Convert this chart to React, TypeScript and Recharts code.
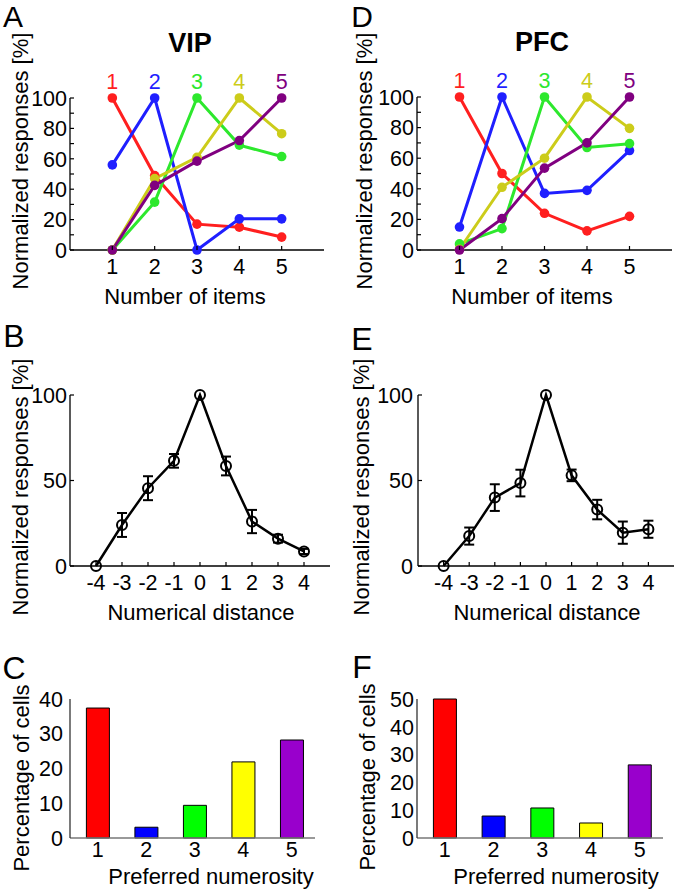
import { LineChart, Line, BarChart, Bar, Cell, XAxis, YAxis, ErrorBar, ReferenceDot } from 'recharts';

const FONT = '"Liberation Sans", Arial, Helvetica, sans-serif';

// A / D: normalized tuning curves, one series per preferred numerosity
const items = [1, 2, 3, 4, 5];
const prefNames = ['1', '2', '3', '4', '5'];
const vip1 = [100, 49, 17, 15, 8.5];
const vip2 = [56, 100, 0, 20.5, 20.5];
const vip3 = [0, 31.5, 100, 69, 61.5];
const vip4 = [0, 47, 61, 100, 76.5];
const vip5 = [0, 42.5, 58.5, 72, 100];
const pfc1 = [100, 50, 24, 12.5, 22];
const pfc2 = [15, 100, 37, 39, 65];
const pfc3 = [4, 14, 100, 67, 69.5];
const pfc4 = [0.5, 41, 60, 100, 79.5];
const pfc5 = [0, 20.5, 53.5, 70, 100];

// B / E: responses vs numerical distance (mean, sem)
const distances = [-4, -3, -2, -1, 0, 1, 2, 3, 4];
const vipDist = [0, 24, 45.5, 61.5, 100, 58.5, 26, 16, 8.5];
const vipDistErr = [0, 7, 7, 4, 0, 5.5, 6.8, 2.3, 1.5];
const pfcDist = [0, 17.5, 40, 48.5, 100, 53, 33, 19.5, 21.5];
const pfcDistErr = [0, 5, 7.8, 7.8, 0, 3.4, 5.7, 6.5, 5];

// C / F: percentage of cells per preferred numerosity
const vipPref = [37.4, 3.1, 9.4, 21.9, 28.2];
const pfcPref = [50, 7.9, 10.8, 5.4, 26.3];

const lineColors = ['#ff1f1f', '#1f1fff', '#2de82d', '#cccc1a', '#800080'];
const barColors = ['#ff0000', '#0000ff', '#00ff00', '#ffff00', '#9900cc'];

const vipTuning = items.map((n, i) => ({ n, s1: vip1[i], s2: vip2[i], s3: vip3[i], s4: vip4[i], s5: vip5[i] }));
const pfcTuning = items.map((n, i) => ({ n, s1: pfc1[i], s2: pfc2[i], s3: pfc3[i], s4: pfc4[i], s5: pfc5[i] }));
const vipDistData = distances.map((d, i) => ({ d, v: vipDist[i], e: vipDistErr[i] }));
const pfcDistData = distances.map((d, i) => ({ d, v: pfcDist[i], e: pfcDistErr[i] }));
const vipPrefData = items.map((n, i) => ({ n, v: vipPref[i] }));
const pfcPrefData = items.map((n, i) => ({ n, v: pfcPref[i] }));

const YW = 50;
const XH = 40;

// place a chart so its plot area lands on (l,t)-(r,b) of the page
function frame(l: number, t: number, r: number, b: number) {
  const left = l - YW - 10;
  const top = t - 30;
  return {
    style: { position: 'absolute' as const, left, top },
    width: r - left + 8,
    height: b - top + XH + 5,
    margin: { top: 30, right: 8, bottom: 5, left: 10 },
    axisX: 10 + YW,
    axisY: b - t + 30,
  };
}

const yTick = (axisX: number, every: number, gap: number, len: number) => (p: any) => {
  const v = p.payload.value;
  return (
    <g>
      {len > 0 && <line x1={axisX} x2={axisX + len} y1={p.y} y2={p.y} stroke="#000" strokeWidth={1.2} />}
      {v % every === 0 && (
        <text x={axisX - gap} y={p.y} dy="0.36em" textAnchor="end" fontSize={21.5} fontFamily={FONT} fill="#000">
          {v}
        </text>
      )}
    </g>
  );
};

const xTick = (axisY: number, gap: number, len: number) => (p: any) => (
  <g>
    {len > 0 && <line x1={p.x} x2={p.x} y1={axisY} y2={axisY - len} stroke="#000" strokeWidth={1.2} />}
    <text x={p.x} y={axisY + gap} dy="0.72em" textAnchor="middle" fontSize={21.5} fontFamily={FONT} fill="#000">
      {p.payload.value}
    </text>
  </g>
);

const Txt = ({ x, y, size = 22, rot = 0, bold = false, lh = 1, children }: any) => (
  <div
    style={{
      position: 'absolute',
      left: x,
      top: y,
      transform: `translate(-50%, -50%) rotate(${rot}deg)`,
      fontSize: size,
      fontWeight: bold ? 700 : 400,
      fontFamily: FONT,
      whiteSpace: 'nowrap',
      lineHeight: lh,
      color: '#000',
    }}
  >
    {children}
  </div>
);

const axisStroke = { stroke: '#000', strokeWidth: 1.3 };

function Tuning({ data, box }: { data: any[]; box: ReturnType<typeof frame> }) {
  const ticks = [0, 10, 20, 30, 40, 50, 60, 70, 80, 90, 100];
  return (
    <div style={box.style}>
      <LineChart width={box.width} height={box.height} margin={box.margin} data={data}>
        <XAxis type="number" dataKey="n" domain={[0, 6]} ticks={items} interval={0} height={XH}
          tickSize={0} tickLine={false} axisLine={axisStroke} tick={xTick(box.axisY, 9, 4)} />
        <YAxis type="number" domain={[0, 100]} ticks={ticks} interval={0} width={YW}
          tickSize={0} tickLine={false} axisLine={axisStroke} tick={yTick(box.axisX, 20, 3, 4)} />
        {prefNames.map((name, i) => (
          <Line key={name} dataKey={`s${i + 1}`} stroke={lineColors[i]} strokeWidth={3}
            dot={{ r: 4.8, fill: lineColors[i], stroke: lineColors[i], strokeWidth: 0 }}
            isAnimationActive={false} />
        ))}
        {prefNames.map((name, i) => (
          <ReferenceDot key={`lab${name}`} x={items[i]} y={100} r={0} stroke="none" ifOverflow="visible"
            label={{ value: name, position: 'top', offset: 9, fill: lineColors[i], fontSize: 21.5, fontFamily: FONT }} />
        ))}
      </LineChart>
    </div>
  );
}

function Distance({ data, box, gap }: { data: any[]; box: ReturnType<typeof frame>; gap: number }) {
  return (
    <div style={box.style}>
      <LineChart width={box.width} height={box.height} margin={box.margin} data={data}>
        <XAxis type="number" dataKey="d" domain={[-5, 5]} ticks={distances} interval={0} height={XH}
          tickSize={0} tickLine={false} axisLine={axisStroke} tick={xTick(box.axisY, 9, 4)} />
        <YAxis type="number" domain={[0, 100]} ticks={[0, 50, 100]} interval={0} width={YW}
          tickSize={0} tickLine={false} axisLine={axisStroke} tick={yTick(box.axisX, 50, gap, 4)} />
        <Line dataKey="v" stroke="#000" strokeWidth={2.5}
          dot={{ r: 5, fill: 'none', stroke: '#000', strokeWidth: 2 }} isAnimationActive={false}>
          <ErrorBar dataKey="e" width={5} strokeWidth={2} stroke="#000" direction="y" />
        </Line>
      </LineChart>
    </div>
  );
}

function Pref({ data, box, max, gap }: { data: any[]; box: ReturnType<typeof frame>; max: number; gap: number }) {
  const ticks = [];
  for (let v = 0; v <= max; v += 10) ticks.push(v);
  return (
    <div style={box.style}>
      <BarChart width={box.width} height={box.height} margin={box.margin} data={data}>
        <XAxis type="number" dataKey="n" domain={[0.43, 5.48]} ticks={items} interval={0} height={XH}
          tickSize={0} tickLine={false} axisLine={{ stroke: '#777', strokeWidth: 1.6 }} tick={xTick(box.axisY, 4, 0)} />
        <YAxis type="number" domain={[0, max]} ticks={ticks} interval={0} width={YW}
          tickSize={0} tickLine={false} axisLine={{ stroke: '#333', strokeWidth: 1.3 }} tick={yTick(box.axisX, 10, gap, 0)} />
        <Bar dataKey="v" barSize={23} stroke="#000" strokeWidth={1} isAnimationActive={false}>
          {data.map((d, i) => (
            <Cell key={`c${d.n}`} fill={barColors[i]} />
          ))}
        </Bar>
      </BarChart>
    </div>
  );
}

export default function App() {
  const boxA = frame(70, 98, 324, 250);
  const boxD = frame(417, 97, 672, 250);
  const boxB = frame(70, 395, 330, 566);
  const boxE = frame(418, 395, 674, 566);
  const boxC = frame(70, 699, 315, 838);
  const boxF = frame(417, 699, 663, 838);
  return (
    <div style={{ position: 'absolute', left: 0, top: 0, width: 680, height: 890, overflow: 'hidden', background: '#fff' }}>
      <Tuning data={vipTuning} box={boxA} />
      <Tuning data={pfcTuning} box={boxD} />
      <Distance data={vipDistData} box={boxB} gap={3} />
      <Distance data={pfcDistData} box={boxE} gap={5} />
      <Pref data={vipPrefData} box={boxC} max={40} gap={7} />
      <Pref data={pfcPrefData} box={boxF} max={50} gap={3} />

      <Txt x={13} y={17} size={30} lh={0.75}>A</Txt>
      <Txt x={362} y={17} size={30} lh={0.75}>D</Txt>
      <Txt x={14} y={336} size={32} lh={0.75}>B</Txt>
      <Txt x={362} y={339} size={32} lh={0.75}>E</Txt>
      <Txt x={14} y={668} size={32} lh={0.75}>C</Txt>
      <Txt x={362} y={667} size={32} lh={0.75}>F</Txt>

      <Txt x={190} y={43} size={27} bold>VIP</Txt>
      <Txt x={542} y={42} size={27} bold>PFC</Txt>

      <Txt x={21} y={161} rot={-90}>Normalized responses [%]</Txt>
      <Txt x={365} y={161} rot={-90}>Normalized responses [%]</Txt>
      <Txt x={21} y={487} rot={-90}>Normalized responses [%]</Txt>
      <Txt x={362} y={487} rot={-90}>Normalized responses [%]</Txt>
      <Txt x={22} y={778} rot={-90}>Percentage of cells</Txt>
      <Txt x={368} y={777} rot={-90}>Percentage of cells</Txt>

      <Txt x={185} y={297}>Number of items</Txt>
      <Txt x={532} y={297}>Number of items</Txt>
      <Txt x={201} y={613}>Numerical distance</Txt>
      <Txt x={547} y={613}>Numerical distance</Txt>
      <Txt x={211} y={877}>Preferred numerosity</Txt>
      <Txt x={556} y={877}>Preferred numerosity</Txt>
    </div>
  );
}
